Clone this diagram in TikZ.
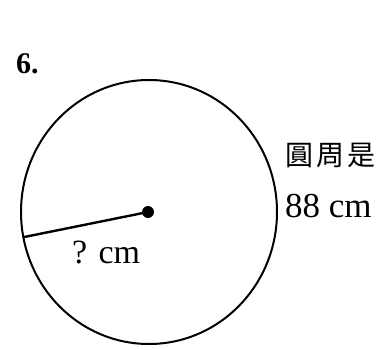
\documentclass[tikz,border=0pt]{standalone}
\usepackage{fontspec}
\setmainfont{Liberation Serif}
\newfontfamily\cjk[LetterSpace=12]{Noto Sans CJK TC}
\usepackage{tikz}
\usetikzlibrary{calc}
\tikzset{>=latex}
\tikzstyle{rim}=[black,line width=2pt]
\tikzstyle{radline}=[black,line width=2.4pt]
\tikzstyle{dotnode}=[black,fill=black,shape=circle,inner sep=0pt,minimum size=12pt]
\tikzstyle{lbl}=[inner sep=0pt]

\begin{document}
\begin{tikzpicture}[x=1pt,y=1pt]
	\useasboundingbox (0,0) rectangle (391,349);
	
	% Number
	\node[lbl, anchor = base west] (num) at (16, 276) {\fontsize{30}{34}\selectfont\bfseries 6.};
	
	% Circle
	\coordinate (c) at (149, 137);
	\draw[rim] (c) ellipse [x radius = 128, y radius = 132];
	\node[dotnode] (ctr) at (148, 137) {};
	\coordinate (edge) at ($(c) + (191:128 and 132)$);
	\draw[radline] (ctr.center) -- (edge);
	\node[lbl, anchor = base west] (rlabel) at (72, 86) {\fontsize{34}{38}\selectfont ? cm};
	
	% Circumference
	\node[lbl, anchor = base west] (ctext) at (285, 184) {\fontsize{28}{32}\selectfont\cjk 圓周是};
	\node[lbl, anchor = base west] (clen) at (285, 132) {\fontsize{35}{40}\selectfont 88 cm};
	
\end{tikzpicture}
\end{document}
